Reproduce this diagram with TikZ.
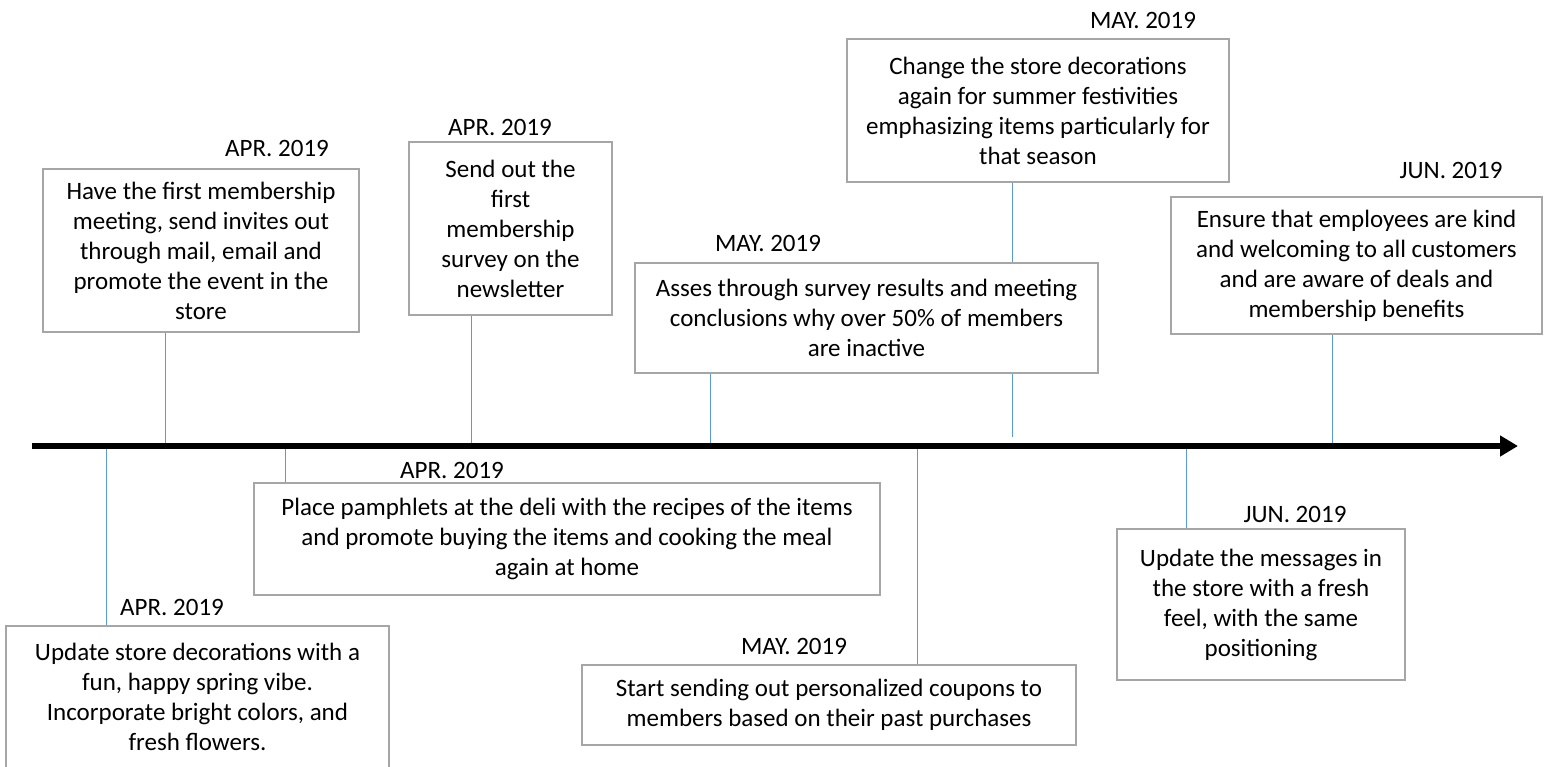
\documentclass[tikz,border=0pt]{standalone}
\usepackage{fontspec}
\setmainfont{Carlito}
\usetikzlibrary{arrows.meta}
\definecolor{boxgray}{RGB}{166,166,166}
\definecolor{connblue}{RGB}{91,155,213}
\begin{document}
\begin{tikzpicture}[x=1pt,y=-1pt,
  evbox/.style={draw=boxgray,line width=2pt,fill=white,inner sep=0pt,align=center,
    font=\fontsize{25}{30}\selectfont},
  datelbl/.style={inner sep=0pt,font=\fontsize{25}{30}\selectfont},
  conn/.style={draw=connblue,line width=1pt},
  axisline/.style={line width=6pt,-{Triangle[length=18pt,width=20pt]}}]
\useasboundingbox (0,0) rectangle (1546,766);
\fill[white] (0,0) rectangle (1546,766);

% axis points
\coordinate (ax0) at (32,446);
\coordinate (ax1) at (1518,446);
\coordinate (a1) at (165,446);
\coordinate (a2) at (471,446);
\coordinate (a3) at (710,446);
\coordinate (a3b) at (1012,437);
\coordinate (a5) at (1332,446);
\coordinate (a6) at (106,446);
\coordinate (a7) at (285,446);
\coordinate (a8) at (917,446);
\coordinate (a9) at (1186,446);

% boxes above
\node[evbox,minimum width=316pt,minimum height=163pt] (b1) at (201,250.5)
  {Have the first membership\\meeting, send invites out\\through mail, email and\\promote the event in the\\store};
\node[evbox,minimum width=203pt,minimum height=173pt] (b2) at (510.5,228.5)
  {Send out the\\first\\membership\\survey on the\\newsletter};
\node[evbox,minimum width=463pt,minimum height=110pt] (b3) at (866.5,318)
  {Asses through survey results and meeting\\conclusions why over 50\% of members\\are inactive};
\node[evbox,minimum width=382pt,minimum height=143pt] (b4) at (1038,110.5)
  {Change the store decorations\\again for summer festivities\\emphasizing items particularly for\\that season};
\node[evbox,minimum width=371pt,minimum height=137pt] (b5) at (1356.5,265.5)
  {Ensure that employees are kind\\and welcoming to all customers\\and are aware of deals and\\membership benefits};

% boxes below
\node[evbox,minimum width=383pt,minimum height=142pt] (b6) at (197.5,697)
  {Update store decorations with a\\fun, happy spring vibe.\\Incorporate bright colors, and\\fresh flowers.};
\node[evbox,minimum width=626pt,minimum height=112pt] (b7) at (567,539)
  {Place pamphlets at the deli with the recipes of the items\\and promote buying the items and cooking the meal\\again at home};
\node[evbox,minimum width=494pt,minimum height=80pt] (b8) at (829,705)
  {Start sending out personalized coupons to\\members based on their past purchases};
\node[evbox,minimum width=288pt,minimum height=151pt] (b9) at (1261,604.5)
  {Update the messages in\\the store with a fresh\\feel, with the same\\positioning};

% date labels
\node[datelbl] (d1) at (277,148) {APR. 2019};
\node[datelbl] (d2) at (500,127) {APR. 2019};
\node[datelbl] (d3) at (768,243) {MAY. 2019};
\node[datelbl] (d4) at (1143,20) {MAY. 2019};
\node[datelbl] (d5) at (1451,170) {JUN. 2019};
\node[datelbl] (d6) at (172,607) {APR. 2019};
\node[datelbl] (d7) at (452,470) {APR. 2019};
\node[datelbl] (d8) at (794,646) {MAY. 2019};
\node[datelbl] (d9) at (1295,514) {JUN. 2019};

% connectors
\draw[conn] (a1 |- b1.south) -- (a1);
\draw[conn] (a2 |- b2.south) -- (a2);
\draw[conn] (a3 |- b3.south) -- (a3);
\draw[conn] (a3b |- b3.south) -- (a3b);
\draw[conn] (a3b |- b4.south) -- (a3b |- b3.north);
\draw[conn] (a5 |- b5.south) -- (a5);
\draw[conn] (a6) -- (a6 |- b6.north);
\draw[conn] (a7) -- (a7 |- b7.north);
\draw[conn] (a8) -- (a8 |- b8.north);
\draw[conn] (a9) -- (a9 |- b9.north);

% axis
\draw[axisline] (ax0) -- (ax1);
\end{tikzpicture}
\end{document}
